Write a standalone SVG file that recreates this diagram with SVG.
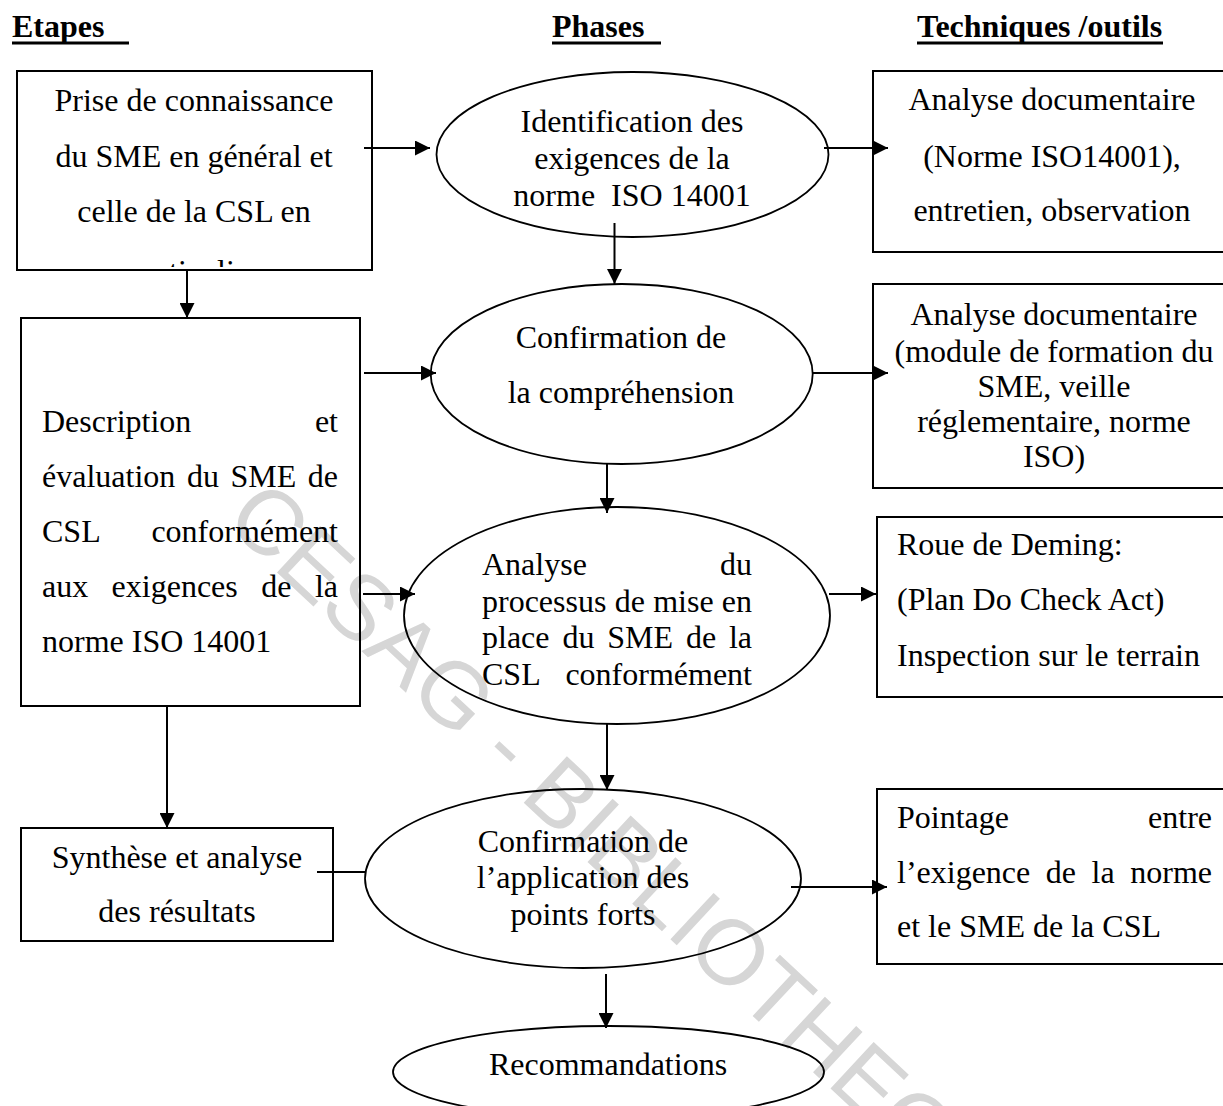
<svg xmlns="http://www.w3.org/2000/svg" width="1223" height="1106" viewBox="0 0 1223 1106">
<style>
.t{font-family:"Liberation Serif","Times New Roman",serif;font-size:32px;fill:#000}
.c{text-anchor:middle}
.e{text-anchor:end}
.h{font-weight:bold}
.box{fill:none;stroke:#000;stroke-width:2}
.ell{fill:none;stroke:#000;stroke-width:1.8}
.conn line{stroke:#000;stroke-width:2}
.arr{marker-end:url(#ah)}
.wm{font-family:"Liberation Sans",Arial,sans-serif;font-size:92px;fill:#d6d6d6}
</style>
<defs>
<marker id="ah" viewBox="0 0 15 15" refX="15" refY="7.5" markerWidth="15" markerHeight="15" markerUnits="userSpaceOnUse" orient="auto">
<path d="M0,0 L15,7.5 L0,15 z" fill="#000"/>
</marker>
<clipPath id="clip1"><rect x="17" y="71" width="355" height="196"/></clipPath>
</defs>
<rect width="1223" height="1106" fill="#fff"/>
<g id="watermark">
<text class="wm" x="223" y="522" transform="rotate(43 223 522)">CESAG - BIBLIOTHEQUE</text>
</g>
<g id="headers">
<text class="t h" x="12" y="37">Etapes</text>
<rect x="12" y="41.5" width="117" height="3" fill="#000"/>
<text class="t h" x="552" y="37">Phases</text>
<rect x="552" y="41.5" width="109" height="3" fill="#000"/>
<text class="t h" x="917" y="37">Techniques /outils</text>
<rect x="917" y="41.5" width="246" height="3" fill="#000"/>
</g>
<g id="box1">
<rect class="box" x="17" y="71" width="355" height="199"/>
<text class="t c" x="194" y="111">Prise de connaissance</text>
<text class="t c" x="194" y="167">du SME en général et</text>
<text class="t c" x="194" y="222">celle de la CSL en</text>
<text class="t c" x="194" y="282" clip-path="url(#clip1)">particulier</text>
</g>
<g id="ellipse1">
<ellipse class="ell" cx="632.5" cy="154.5" rx="196" ry="82.5"/>
<text class="t c" x="632" y="131.5">Identification des</text>
<text class="t c" x="632" y="168.5">exigences de la</text>
<text class="t c" x="632" y="205.5" xml:space="preserve">norme  ISO 14001</text>
</g>
<g id="box3">
<rect class="box" x="873" y="71" width="362" height="181"/>
<text class="t c" x="1052" y="110">Analyse documentaire</text>
<text class="t c" x="1052" y="167">(Norme ISO14001),</text>
<text class="t c" x="1052" y="221">entretien, observation</text>
</g>
<g id="box2">
<rect class="box" x="21" y="318" width="339" height="388"/>
<text class="t" x="42" y="432">Description</text>
<text class="t e" x="338" y="432">et</text>
<text class="t" x="42" y="487">évaluation</text>
<text class="t" x="186.9" y="487">du</text>
<text class="t" x="230.5" y="487">SME</text>
<text class="t e" x="338" y="487">de</text>
<text class="t" x="42" y="542">CSL</text>
<text class="t e" x="338" y="542">conformément</text>
<text class="t" x="42" y="597">aux</text>
<text class="t" x="111.6" y="597">exigences</text>
<text class="t" x="261.3" y="597">de</text>
<text class="t e" x="338" y="597">la</text>
<text class="t" x="42" y="652">norme ISO 14001</text>
</g>
<g id="ellipse2">
<ellipse class="ell" cx="621.7" cy="374" rx="191" ry="90"/>
<text class="t c" x="621" y="348">Confirmation de</text>
<text class="t c" x="621" y="403">la compréhension</text>
</g>
<g id="box4">
<rect class="box" x="873" y="284" width="362" height="204"/>
<text class="t c" x="1054" y="325">Analyse documentaire</text>
<text class="t c" x="1054" y="362">(module de formation du</text>
<text class="t c" x="1054" y="397">SME, veille</text>
<text class="t c" x="1054" y="432">réglementaire, norme</text>
<text class="t c" x="1054" y="467">ISO)</text>
</g>
<g id="ellipse3">
<ellipse class="ell" cx="617" cy="615.5" rx="213" ry="108.5"/>
<text class="t" x="482" y="575">Analyse</text>
<text class="t e" x="752" y="575">du</text>
<text class="t" x="482" y="612">processus</text>
<text class="t" x="614.7" y="612">de</text>
<text class="t" x="653.2" y="612">mise</text>
<text class="t e" x="752" y="612">en</text>
<text class="t" x="482" y="648">place</text>
<text class="t" x="562.4" y="648">du</text>
<text class="t" x="607.2" y="648">SME</text>
<text class="t" x="685.9" y="648">de</text>
<text class="t e" x="752" y="648">la</text>
<text class="t" x="482" y="685">CSL</text>
<text class="t e" x="752" y="685">conformément</text>
</g>
<g id="box5">
<rect class="box" x="877" y="517" width="360" height="180"/>
<text class="t" x="897" y="555">Roue de Deming:</text>
<text class="t" x="897" y="610">(Plan Do Check Act)</text>
<text class="t" x="897" y="666">Inspection sur le terrain</text>
</g>
<g id="box7">
<rect class="box" x="21" y="828" width="312" height="113"/>
<text class="t c" x="177" y="868">Synthèse et analyse</text>
<text class="t c" x="177" y="922">des résultats</text>
</g>
<g id="ellipse4">
<ellipse class="ell" cx="583" cy="878.5" rx="218" ry="89.5"/>
<text class="t c" x="583" y="852">Confirmation de</text>
<text class="t c" x="583" y="888">l’application des</text>
<text class="t c" x="583" y="925">points forts</text>
</g>
<g id="box6">
<rect class="box" x="877" y="789" width="360" height="175"/>
<text class="t" x="897" y="828">Pointage</text>
<text class="t e" x="1212" y="828">entre</text>
<text class="t" x="897" y="883">l’exigence</text>
<text class="t" x="1045.8" y="883">de</text>
<text class="t" x="1091.5" y="883">la</text>
<text class="t e" x="1212" y="883">norme</text>
<text class="t" x="897" y="937">et le SME de la CSL</text>
</g>
<g id="ellipse5">
<ellipse class="ell" cx="608.5" cy="1072" rx="215.5" ry="46"/>
<text class="t c" x="608" y="1075">Recommandations</text>
</g>
<g id="connectors" class="conn">
<line class="arr" x1="364" y1="148" x2="430" y2="148"/>
<line class="arr" x1="824" y1="148" x2="888" y2="148"/>
<line class="arr" x1="187" y1="270" x2="187" y2="318"/>
<line class="arr" x1="614.5" y1="223" x2="614.5" y2="284"/>
<line class="arr" x1="364" y1="373" x2="436" y2="373"/>
<line class="arr" x1="813" y1="373" x2="888" y2="373"/>
<line class="arr" x1="607" y1="464" x2="607" y2="513"/>
<line class="arr" x1="363" y1="594" x2="415" y2="594"/>
<line class="arr" x1="829" y1="594" x2="876" y2="594"/>
<line class="arr" x1="607" y1="724" x2="607" y2="790"/>
<line class="arr" x1="167" y1="706" x2="167" y2="828"/>
<line x1="317" y1="872" x2="365" y2="872"/>
<line class="arr" x1="791" y1="887" x2="887" y2="887"/>
<line class="arr" x1="606" y1="974" x2="606" y2="1028"/>
</g>
</svg>
